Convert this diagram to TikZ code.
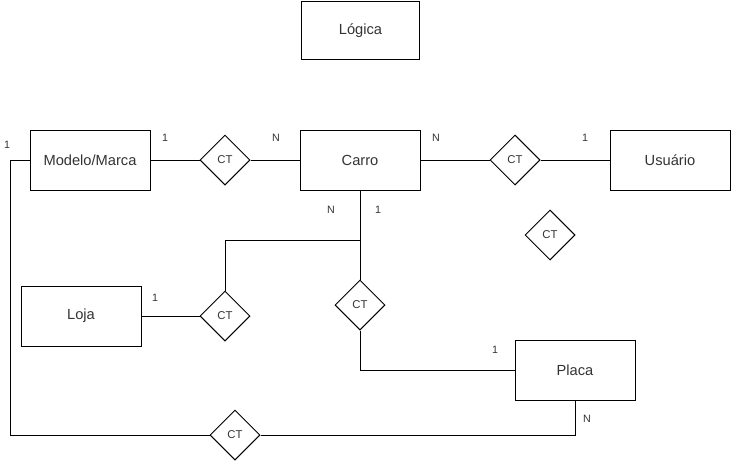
\documentclass[tikz,border=0pt]{standalone}
\usepackage{fontspec}
\setmainfont{Liberation Sans}
\usetikzlibrary{shapes.geometric}
\tikzset{
  entidade/.style={draw, rectangle, minimum width=90pt, minimum height=45pt,
    inner sep=0pt, font=\fontsize{11}{13}\selectfont, text=black!80},
  relacao/.style={draw, diamond, aspect=1, minimum size=37.5pt, inner sep=0pt,
    font=\fontsize{8.5}{10}\selectfont, text=black!80},
  card/.style={font=\fontsize{8}{10}\selectfont, text=black!80},
}
\begin{document}
\begin{tikzpicture}[x=0.75pt, y=-0.75pt, line width=0.75pt]
    \useasboundingbox (0,0) rectangle (731,461);

    % titulo
    \node[entidade, minimum width=89pt, minimum height=44pt] (logica) at (360.5, 30.5) {Lógica};

    % entidades
    \node[entidade] (modelo) at (90, 160) {Modelo/Marca};
    \node[entidade] (carro) at (360, 160) {Carro};
    \node[entidade] (usuario) at (670, 160) {Usuário};
    \node[entidade] (loja) at (81, 316) {Loja};
    \node[entidade] (placa) at (575, 370) {Placa};

    % relacionamentos
    \node[relacao] (ct1) at (225, 160) {CT};
    \node[relacao] (ct2) at (515, 160) {CT};
    \node[relacao] (ctsolto) at (550, 235) {CT};
    \node[relacao] (ctloja) at (225, 316) {CT};
    \node[relacao] (ctplaca) at (360, 305) {CT};
    \node[relacao] (ctbaixo) at (235, 435) {CT};

    % ligacoes
    \draw (modelo) -- (ct1);
    \draw (ct1) -- (carro);
    \draw (carro) -- (ct2);
    \draw (ct2) -- (usuario);
    \coordinate (juncao) at (360, 240);
    \draw (carro.south) -- (juncao) -| (ctloja.north);
    \draw (juncao) -- (ctplaca.north);
    \draw (loja) -- (ctloja);
    \draw (ctplaca.south) |- (placa.west);
    \coordinate (canto) at (10, 160);
    \draw (modelo.west) -- (canto) |- (ctbaixo.west);
    \draw (ctbaixo.east) -| (placa.south);

    % cardinalidades
    \node[card] (c1) at (165, 138) {1};
    \node[card] (c2) at (276, 138) {N};
    \node[card] (c3) at (436, 138) {N};
    \node[card] (c4) at (585, 138) {1};
    \node[card] (c5) at (331, 210) {N};
    \node[card] (c6) at (378, 210) {1};
    \node[card] (c7) at (155, 298) {1};
    \node[card] (c8) at (495, 350) {1};
    \node[card] (c9) at (7, 145) {1};
    \node[card] (c10) at (587, 419) {N};
\end{tikzpicture}
\end{document}
